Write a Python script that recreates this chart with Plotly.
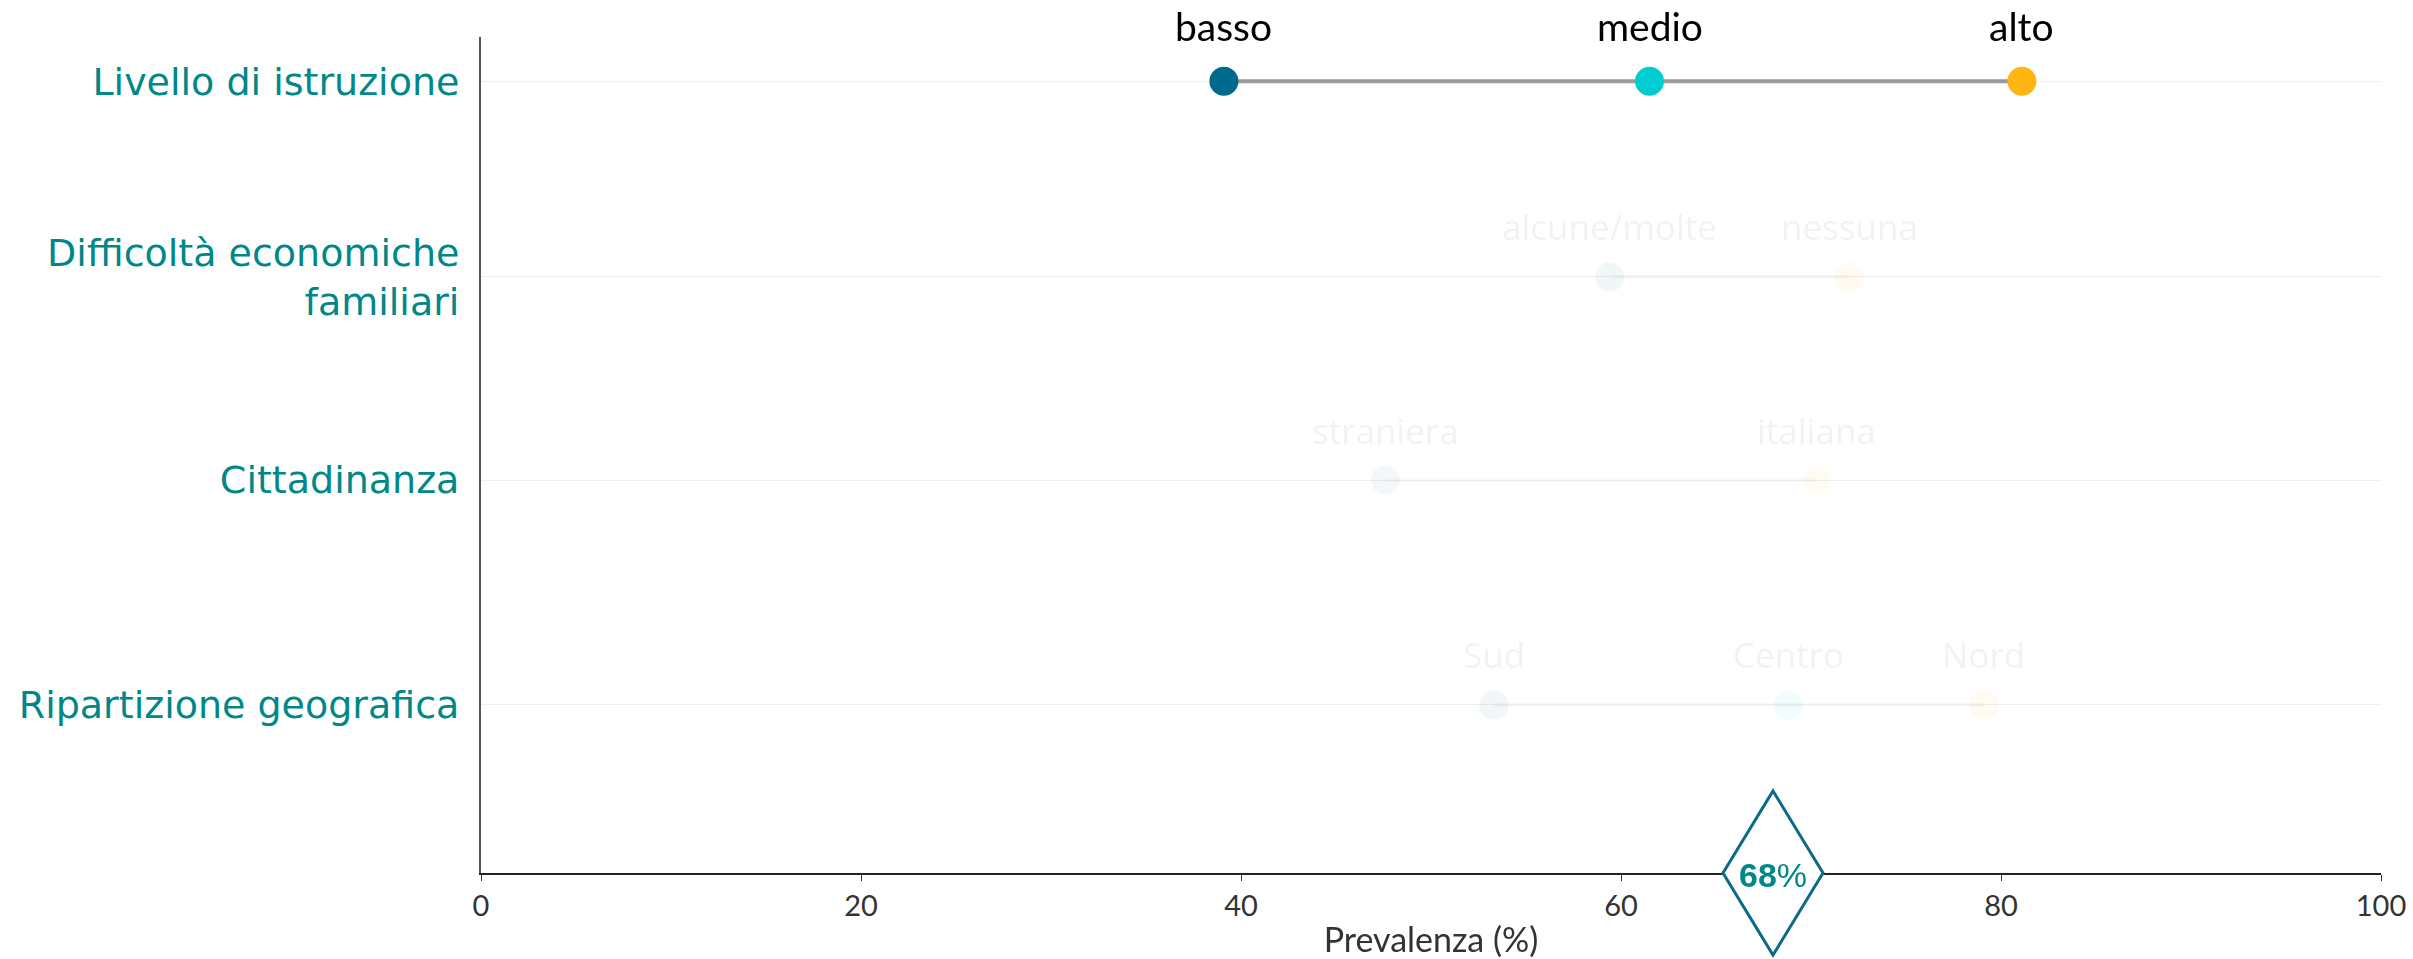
import plotly.graph_objects as go

# ---------------- data ----------------
categories = ["Livello di istruzione", "Difficoltà economiche<br>familiari",
              "Cittadinanza", "Ripartizione geografica"]
group_labels = [["basso", "medio", "alto"],
                ["alcune/molte", "nessuna"],
                ["straniera", "italiana"],
                ["Sud", "Centro", "Nord"]]
group_values = [[39.1, 61.5, 81.1],
                [59.4, 72.0],
                [47.6, 70.3],
                [53.3, 68.8, 79.1]]
overall_value = 68
x_ticks = [0, 20, 40, 60, 80, 100]

# ---------------- style ----------------
row_pos = [0.947, 0.713, 0.470, 0.201]   # vertical slot of each row (axis fraction)
palette3 = ["#006A8E", "#00CDD2", "#FFB612"]
palette2 = ["#006A8E", "#FFB612"]
highlight = [True, False, False, False]
TEAL = "#00878A"

fig = go.Figure()
annotations = []
for i, (labs, vals) in enumerate(zip(group_labels, group_values)):
    cols = palette3 if len(vals) == 3 else palette2
    op = 1.0 if highlight[i] else 0.05
    y = [row_pos[i]] * len(vals)
    fig.add_trace(go.Scatter(x=vals, y=y, mode="lines",
                             line=dict(color="#9A9A9A", width=4),
                             opacity=op, hoverinfo="skip", showlegend=False))
    fig.add_trace(go.Scatter(x=vals, y=y, mode="markers",
                             marker=dict(color=cols, size=29, line=dict(width=0)),
                             opacity=op, showlegend=False))
    for lab, v in zip(labs, vals):
        annotations.append(dict(
            x=v, y=row_pos[i], xref="x", yref="y", text=lab, showarrow=False,
            yshift=55 if highlight[i] else 50, opacity=op,
            font=dict(family="Lato, Carlito, sans-serif" if highlight[i] else "Open Sans, sans-serif",
                      size=39 if highlight[i] else 35, color="#000000")))

# overall diamond marker on the x axis
fig.add_shape(type="path", xref="x", yref="paper", xsizemode="pixel", ysizemode="pixel",
              xanchor=overall_value, yanchor=0,
              path="M0,82 L50,0 L0,-82 L-50,0 Z",
              line=dict(color="#0B6A8A", width=3), fillcolor="white", layer="above")
annotations.append(dict(x=overall_value, y=0, xref="x", yref="paper",
                        xanchor="center", yanchor="middle",
                        text=f"<b>{overall_value}</b>%", showarrow=False, yshift=-2,
                        font=dict(family="Liberation Sans, Arial, sans-serif", size=34, color=TEAL)))

fig.update_layout(
    width=2413, height=959,
    margin=dict(l=481, r=32, t=37, b=86),
    paper_bgcolor="white", plot_bgcolor="white",
    annotations=annotations,
    xaxis=dict(range=[0, 100], tickvals=x_ticks, ticktext=[str(t) for t in x_ticks],
               showgrid=False, zeroline=False, automargin=False,
               showline=True, linecolor="#222222", linewidth=2,
               ticks="outside", ticklen=6, tickcolor="#333333", tickwidth=1,
               tickfont=dict(family="Lato, sans-serif", size=29, color="#333333"),
               title=dict(text="Prevalenza (%)", standoff=10,
                          font=dict(family="Lato, sans-serif", size=34, color="#333333"))),
    yaxis=dict(range=[0, 1], tickvals=row_pos, ticktext=categories,
               showgrid=True, gridcolor="#EFEFEF", gridwidth=1, zeroline=False,
               showline=True, linecolor="#555555", linewidth=2, automargin=False,
               ticks="", ticklabelstandoff=12,
               tickfont=dict(family="DejaVu Sans, sans-serif", size=38, color=TEAL)),
)

fig.write_html("out.html", config={"displayModeBar": False},
               post_script="document.body.style.margin='0';document.body.style.overflow='hidden';")
